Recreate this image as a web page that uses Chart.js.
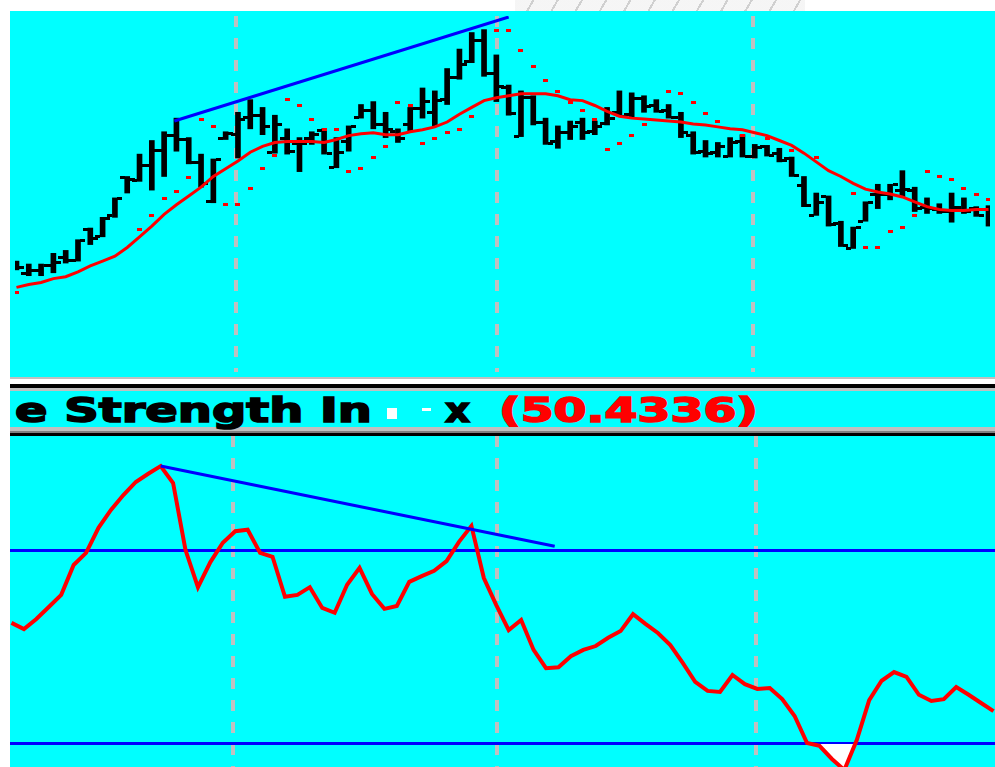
<!DOCTYPE html>
<html>
<head>
<meta charset="utf-8">
<script src="https://cdn.jsdelivr.net/npm/chart.js@4.4.1/dist/chart.umd.min.js"></script>
<style>
  html, body { margin: 0; padding: 0; background: #ffffff; }
  #page { position: relative; width: 995px; height: 767px; overflow: hidden; background: #ffffff; }
  .pane { position: absolute; left: 10px; width: 985px; background: #00ffff; }
  .rule { position: absolute; left: 10px; width: 985px; }
  .cap { position: absolute; top: 393px; left: 0; font-family: 'DejaVu Sans', sans-serif; font-weight: bold;
         font-size: 34px; line-height: 34px; white-space: pre; transform-origin: 0 0; color: #000;
         -webkit-text-stroke: 1.6px currentColor; }
  .spot { position: absolute; background: #ffffff; }
  #mark { position: absolute; left: 515px; top: 0; width: 290px; height: 11px;
          background: repeating-linear-gradient(120deg, #f3f3f3 0 15px, #c4c4c4 15px 17px, #f3f3f3 17px 21px); opacity: 0.8; }
  canvas { display: block; }
</style>
</head>
<body>
<div id="page">
  <div id="mark"></div>
  <div class="pane" style="top:11px;height:366px"><canvas id="priceChart" width="985" height="366"></canvas></div>
  <div class="rule" style="top:377px;height:2px;background:#c0c0c0"></div>
  <div class="rule" style="top:379px;height:5px;background:#ffffff"></div>
  <div class="rule" style="top:384px;height:4px;background:#000000"></div>
  <div class="rule" style="top:388px;height:3px;background:#c0c0c0"></div>
  <div class="pane" style="top:391px;height:36px"></div>
  <div class="rule" style="top:427px;height:4px;background:#c0c0c0"></div>
  <div class="rule" style="top:431px;height:2px;background:#808080"></div>
  <div class="rule" style="top:433px;height:3px;background:#000000"></div>
  <div class="pane" style="top:436px;height:331px"><canvas id="rsiChart" width="985" height="331"></canvas></div>

  <span class="cap" id="capName" data-left="15" data-right="372">e Strength In</span>
  <span class="spot" style="left:387px;top:408px;width:10px;height:11px"></span>
  <span class="spot" style="left:422px;top:408px;width:9px;height:3px"></span>
  <span class="cap" id="capTail" data-left="445" data-right="470">x</span>
  <span class="cap" id="capValue" data-left="499" data-right="758" style="color:#ff0000"></span>
</div>

<script>
// ---- price bars (one per session) ----
const highs = [
  23.7, 23.4, 23.4, 24.5, 24.8, 25.9, 27.1, 28.2, 30.2, 32.4,
  34.7, 36.1, 37.0, 38.4, 36.4, 34.7, 34.2, 37.0, 39.0, 40.3,
  39.5, 38.7, 37.3, 36.4, 37.0, 37.3, 36.4, 37.6, 39.8, 40.1,
  39.0, 37.3, 39.5, 41.5, 41.2, 43.5, 45.5, 47.2, 47.5, 44.9,
  41.8, 41.2, 40.7, 38.4, 37.6, 38.1, 38.4, 38.1, 39.5, 41.2,
  41.0, 40.7, 40.3, 39.8, 39.0, 37.0, 36.1, 35.9, 36.4, 36.7,
  35.7, 35.6, 35.3, 34.4, 32.4, 30.7, 30.4, 27.8, 27.2, 29.8,
  31.6, 31.6, 33.0, 31.3, 30.2, 29.6, 30.7, 30.2, 29.3, 29.4
];
const lows = [
  22.8, 22.2, 22.2, 22.5, 23.5, 23.7, 25.4, 26.2, 28.2, 30.7,
  31.9, 31.0, 32.4, 35.0, 33.7, 31.3, 29.7, 36.2, 34.3, 37.3,
  36.7, 34.8, 34.7, 32.9, 35.7, 34.7, 33.3, 35.0, 38.4, 37.3,
  36.4, 35.9, 37.0, 38.4, 37.6, 39.8, 42.4, 44.1, 42.7, 40.1,
  38.7, 36.5, 37.7, 35.7, 35.3, 36.2, 36.2, 36.7, 37.7, 38.6,
  38.4, 39.0, 39.0, 38.4, 36.4, 34.7, 34.4, 34.4, 34.4, 34.4,
  34.3, 34.5, 33.9, 32.4, 29.3, 28.4, 27.3, 25.2, 25.0, 27.8,
  29.1, 30.0, 30.3, 28.8, 28.6, 28.6, 27.7, 28.6, 28.3, 27.3
];
const opens = [
  23.2, 22.4, 22.7, 23.3, 24.1, 23.8, 27.0, 26.2, 28.4, 32.3,
  32.0, 33.5, 35.1, 36.6, 36.2, 33.8, 29.8, 36.3, 36.7, 38.5,
  38.7, 34.9, 36.3, 35.8, 36.3, 37.1, 33.3, 36.0, 38.5, 39.2,
  37.7, 37.0, 37.7, 39.4, 39.0, 40.3, 42.6, 44.2, 46.4, 43.0,
  41.6, 36.5, 40.5, 38.0, 36.0, 36.9, 38.0, 37.0, 37.8, 39.0,
  38.8, 40.4, 39.7, 39.2, 38.5, 36.6, 35.0, 34.9, 34.5, 36.0,
  34.5, 35.5, 34.8, 34.3, 31.5, 28.4, 30.3, 27.6, 25.0, 27.8,
  30.5, 30.5, 31.0, 31.0, 29.2, 29.0, 28.8, 29.2, 29.1, 29.0
];
const closes = [
  23.0, 22.7, 23.3, 23.6, 23.8, 25.8, 26.0, 28.1, 30.1, 32.1,
  33.5, 35.1, 36.6, 36.2, 33.8, 31.7, 34.1, 36.8, 38.3, 38.7,
  37.5, 37.7, 35.0, 35.8, 36.7, 34.8, 34.9, 37.5, 39.2, 37.7,
  37.2, 36.3, 39.4, 40.1, 40.2, 42.6, 43.9, 46.4, 43.0, 41.7,
  38.9, 40.5, 38.0, 35.8, 36.9, 37.5, 36.9, 37.5, 38.4, 38.6,
  40.4, 39.6, 39.1, 38.5, 36.9, 34.9, 34.8, 35.5, 35.9, 34.5,
  35.4, 34.6, 34.0, 32.5, 29.4, 29.7, 27.5, 25.3, 27.2, 29.7,
  30.5, 31.6, 31.1, 29.1, 29.1, 28.8, 29.2, 28.8, 28.4, 28.8
];

// ---- moving average ----
const movingAvg = [
  21.0, 21.3, 21.5, 21.9, 22.1, 22.6, 23.2, 23.7, 24.2, 25.1,
  26.2, 27.3, 28.5, 29.5, 30.4, 31.3, 32.4, 33.2, 34.0, 34.9,
  35.5, 35.9, 36.0, 36.0, 36.0, 35.9, 36.2, 36.6, 36.8, 36.9,
  36.7, 36.7, 37.0, 37.2, 37.5, 38.0, 38.8, 39.5, 40.2, 40.5,
  40.7, 40.9, 40.9, 40.9, 40.7, 40.3, 40.2, 39.7, 39.1, 38.6,
  38.4, 38.3, 38.2, 38.1, 38.0, 37.8, 37.7, 37.5, 37.3, 37.2,
  36.9, 36.6, 36.1, 35.6, 34.8, 33.9, 33.0, 32.4, 31.7, 31.1,
  30.8, 30.6, 30.3, 29.8, 29.3, 29.0, 28.9, 28.9, 29.0, 29.0
];

// ---- stop-and-reverse dots (null = none plotted) ----
const sarDots = [
  20.5, null, null, null, null, null, null, null, null, null,
  27.0, 28.4, 30.1, 30.9, 32.3, 38.3, 37.5, 29.5, 29.5, 31.2,
  33.2, 34.6, 40.3, 39.7, 38.3, 37.2, 37.2, 32.9, 33.2, 34.4,
  35.5, 40.0, 39.7, 35.8, 36.3, 36.9, 37.2, 38.6, null, 47.4,
  47.4, 45.4, 43.7, 42.3, 41.1, 40.0, 39.2, 38.3, 35.2, 35.8,
  36.6, 37.7, null, 41.1, 40.9, 40.0, 38.9, 38.1, null, 36.6,
  null, 36.3, null, 35.1, null, 34.4, null, null, 30.7, 25.1,
  25.1, 26.7, 27.2, 28.4, 32.9, 32.4, 32.1, 31.2, 30.6, 30.0
];

// ---- relative strength index ----
const rsiValues = [
  55.1, 53.8, 55.9, 58.4, 60.9, 67.1, 69.6, 74.8, 78.5, 81.6,
  84.3, 86.0, 87.6, 84.1, 70.2, 62.5, 67.7, 71.7, 74.1, 74.4,
  69.6, 68.8, 60.5, 60.9, 62.5, 58.2, 57.2, 63.0, 66.5, 61.1,
  58.0, 58.6, 63.6, 64.8, 65.9, 67.9, 71.9, 75.2, 64.4, 58.8,
  53.6, 55.7, 49.5, 45.7, 45.9, 48.2, 49.5, 50.3, 52.0, 53.4,
  56.9, 54.9, 53.0, 50.5, 46.8, 42.9, 41.0, 40.8, 44.3, 42.4,
  41.4, 41.6, 39.3, 35.8, 30.2, 29.6, 26.9, 24.6, 30.8, 39.1,
  43.1, 44.9, 43.9, 40.2, 38.9, 39.3, 41.8, 40.2, 38.5, 36.8
];
const rsiLevels = [30, 70];
const rsiReading = 50.4336;

// trendline anchors: [session index, value]
const priceTrend = [[12.83, 38.1], [40.0, 48.8]];
const rsiTrend = [[12.0, 87.6], [43.7, 71.0]];

// month boundaries, in session index units
const monthStarts = [17.82, 39.02, 59.86];

const X_MIN = -0.12, X_MAX = 79.12;

function blockImage(color) {
  const c = document.createElement('canvas');
  c.width = 5; c.height = 3;
  const g = c.getContext('2d');
  g.fillStyle = color;
  g.fillRect(0, 0, 5, 3);
  return c;
}
const tickMark = blockImage('#000000');
const sarMark = blockImage('#ff0000');

function sessionAxis() {
  return {
    type: 'linear', min: X_MIN, max: X_MAX, offset: false,
    ticks: { display: false },
    grid: { color: '#c0c0c0', lineWidth: 4, drawTicks: false, offset: false },
    border: { display: false, dash: [11, 11] },
    afterBuildTicks: axis => { axis.ticks = monthStarts.map(v => ({ value: v })); }
  };
}

const common = {
  responsive: false,
  animation: false,
  events: [],
  layout: { padding: 0 },
  plugins: { legend: { display: false }, tooltip: { enabled: false }, title: { display: false } }
};

// price pane
new Chart(document.getElementById('priceChart'), {
  type: 'bar',
  data: {
    datasets: [
      { type: 'line', data: priceTrend.map(p => ({ x: p[0], y: p[1] })),
        borderColor: '#0000ff', borderWidth: 3, pointRadius: 0, order: 0 },
      { type: 'line', data: movingAvg.map((v, i) => ({ x: i, y: v })),
        borderColor: '#ff0000', borderWidth: 3, pointRadius: 0, tension: 0, order: 1 },
      { type: 'scatter', data: sarDots.map((v, i) => v == null ? null : { x: i, y: v }).filter(Boolean),
        pointStyle: sarMark, pointRadius: 3, order: 2 },
      { type: 'scatter', data: opens.map((v, i) => ({ x: i - 0.4, y: v })),
        pointStyle: tickMark, pointRadius: 3, order: 3 },
      { type: 'scatter', data: closes.map((v, i) => ({ x: i + 0.4, y: v })),
        pointStyle: tickMark, pointRadius: 3, order: 3 },
      { type: 'bar', data: highs.map((h, i) => ({ x: i, y: [lows[i], h] })),
        backgroundColor: '#000000', borderWidth: 0, barThickness: 5, order: 4 }
    ]
  },
  options: Object.assign({}, common, {
    scales: {
      x: sessionAxis(),
      y: { type: 'linear', min: 12.3, max: 48.9, display: false }
    }
  })
});

// RSI pane
new Chart(document.getElementById('rsiChart'), {
  type: 'line',
  data: {
    datasets: [
      { data: rsiTrend.map(p => ({ x: p[0], y: p[1] })),
        borderColor: '#0000ff', borderWidth: 3, pointRadius: 0, order: 0 },
      { data: rsiValues.map((v, i) => ({ x: i, y: v })),
        borderColor: '#ff0000', borderWidth: 4, pointRadius: 0, tension: 0, order: 1,
        fill: { target: { value: rsiLevels[0] }, above: 'rgba(0,0,0,0)', below: '#ffffff' } }
    ]
  },
  options: Object.assign({}, common, {
    scales: {
      x: sessionAxis(),
      y: {
        type: 'linear', min: 25.23, max: 93.83,
        ticks: { display: false },
        grid: { color: '#0000ff', lineWidth: 3, drawTicks: false },
        border: { display: false },
        afterBuildTicks: axis => { axis.ticks = rsiLevels.map(v => ({ value: v })); }
      }
    }
  })
});

// indicator caption
document.getElementById('capValue').textContent = '(' + rsiReading.toFixed(4) + ')';
function fitCaptions() {
  document.querySelectorAll('.cap').forEach(el => {
    const left = +el.dataset.left, right = +el.dataset.right;
    el.style.transform = 'none';
    const w = el.getBoundingClientRect().width;
    el.style.left = left + 'px';
    el.style.transform = 'scaleX(' + ((right - left) / w) + ')';
  });
}
fitCaptions();
if (document.fonts && document.fonts.ready) document.fonts.ready.then(fitCaptions);
</script>
</body>
</html>
